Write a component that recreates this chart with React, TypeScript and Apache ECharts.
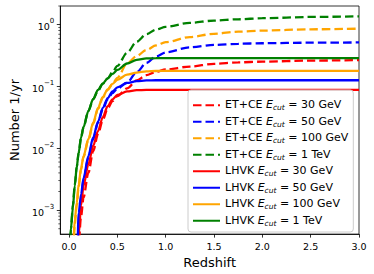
import React, { useEffect, useRef } from "react";
import * as echarts from "echarts";

const Z = [0, 0.02, 0.04, 0.06, 0.08, 0.1, 0.125, 0.15, 0.2, 0.25, 0.3, 0.35, 0.4, 0.45, 0.5, 0.6, 0.7, 0.8, 0.9, 1.0, 1.25, 1.5, 1.75, 2.0, 2.5, 3.0];

const ETCE_30 = [1e-5, 1e-5, 1e-5, 1e-5, 5e-5, 3e-4, 8e-4, 0.0016, 0.004, 0.009, 0.017, 0.029, 0.044, 0.058, 0.07, 0.093, 0.125, 0.152, 0.172, 0.188, 0.21, 0.232, 0.245, 0.252, 0.262, 0.267];
const ETCE_50 = [1e-5, 1e-5, 1e-5, 1e-5, 5e-5, 6e-4, 0.0015, 0.003, 0.007, 0.014, 0.026, 0.043, 0.062, 0.078, 0.092, 0.115, 0.17, 0.24, 0.305, 0.355, 0.43, 0.47, 0.49, 0.5, 0.51, 0.515];
const ETCE_100 = [1e-5, 1e-5, 1.8e-4, 6e-4, 0.0012, 0.0024, 0.0045, 0.0072, 0.0135, 0.025, 0.043, 0.066, 0.088, 0.11, 0.138, 0.235, 0.31, 0.39, 0.46, 0.52, 0.63, 0.71, 0.77, 0.8, 0.84, 0.86];
const ETCE_1TEV = [1e-4, 5e-4, 0.0012, 0.0026, 0.005, 0.0085, 0.015, 0.022, 0.04, 0.062, 0.085, 0.11, 0.135, 0.17, 0.215, 0.35, 0.53, 0.7, 0.83, 0.92, 1.07, 1.16, 1.22, 1.27, 1.33, 1.36];

const LHVK_30 = [1e-5, 1e-5, 1e-5, 1e-5, 1e-4, 4e-4, 0.0012, 0.0025, 0.0055, 0.011, 0.019, 0.032, 0.048, 0.062, 0.073, 0.083, 0.087, 0.088, 0.088, 0.088, 0.088, 0.088, 0.088, 0.088, 0.088, 0.088];
const LHVK_50 = [1e-5, 1e-5, 1e-5, 1e-5, 1e-4, 9e-4, 0.0018, 0.0033, 0.0075, 0.015, 0.027, 0.045, 0.065, 0.083, 0.097, 0.114, 0.122, 0.125, 0.126, 0.126, 0.126, 0.126, 0.126, 0.126, 0.126, 0.126];
const LHVK_100 = [1e-5, 1e-5, 2e-4, 7e-4, 0.0013, 0.0026, 0.0048, 0.0075, 0.014, 0.026, 0.045, 0.068, 0.09, 0.11, 0.128, 0.155, 0.168, 0.175, 0.178, 0.179, 0.179, 0.179, 0.179, 0.179, 0.179, 0.179];
const LHVK_1TEV = [1e-4, 5e-4, 0.0011, 0.0025, 0.005, 0.0085, 0.015, 0.022, 0.04, 0.063, 0.088, 0.112, 0.135, 0.16, 0.185, 0.235, 0.27, 0.284, 0.287, 0.288, 0.288, 0.288, 0.288, 0.288, 0.288, 0.288];

const SERIES_NAMES = [
  "ET+CE E_cut = 30 GeV",
  "ET+CE E_cut = 50 GeV",
  "ET+CE E_cut = 100 GeV",
  "ET+CE E_cut = 1 TeV",
  "LHVK E_cut = 30 GeV",
  "LHVK E_cut = 50 GeV",
  "LHVK E_cut = 100 GeV",
  "LHVK E_cut = 1 TeV",
];
const SERIES_VALUES = [ETCE_30, ETCE_50, ETCE_100, ETCE_1TEV, LHVK_30, LHVK_50, LHVK_100, LHVK_1TEV];
const SERIES_COLORS = ["#ff0000", "#0000ff", "#ffa500", "#008000", "#ff0000", "#0000ff", "#ffa500", "#008000"];
const SERIES_DASHED = [true, true, true, true, false, false, false, false];

const X_TICKS = [0, 0.5, 1.0, 1.5, 2.0, 2.5, 3.0];
const Y_TICKS = [1e-3, 1e-2, 1e-1, 1];
const MINOR_TICKS = [5e-4, 6e-4, 7e-4, 8e-4, 9e-4, 2e-3, 3e-3, 4e-3, 5e-3, 6e-3, 7e-3, 8e-3, 9e-3, 0.02, 0.03, 0.04, 0.05, 0.06, 0.07, 0.08, 0.09, 0.2, 0.3, 0.4, 0.5, 0.6, 0.7, 0.8, 0.9, 2];

const X_MIN = -0.09;
const X_MAX = 3.0;
const Y_MIN = 4.1e-4;
const Y_MAX = 2.0;

const FONT = "DejaVu Sans";

export default function App() {
  const ref = useRef<HTMLDivElement>(null);
  useEffect(() => {
    if (!ref.current) return;
    document.body.style.margin = "0";
    const chart = echarts.init(ref.current, null, { renderer: "svg" });
    const lineSeries = SERIES_NAMES.map((name, k) => ({
      name,
      type: "line",
      data: Z.map((z, i) => [z, SERIES_VALUES[k][i]]),
      symbol: "none",
      showSymbol: false,
      smooth: 0.3,
      smoothMonotone: "x",
      clip: true,
      color: SERIES_COLORS[k],
      lineStyle: {
        color: SERIES_COLORS[k],
        width: 2.3,
        type: SERIES_DASHED[k] ? [8.5, 4] : "solid",
        cap: "butt",
      },
    }));
    const minorSeries = {
      name: "minor",
      type: "scatter",
      data: MINOR_TICKS.map((v) => [X_MIN, v]),
      symbol: "rect",
      symbolSize: [2, 0.8],
      symbolOffset: [-1, 0],
      itemStyle: { color: "#000" },
      clip: false,
      silent: true,
      z: 5,
    };
    const sup = (n: number) => `{b|10}{s|${n < 0 ? "\u2212" + -n : n}}`;
    chart.setOption({
      animation: false,
      textStyle: { fontFamily: FONT },
      grid: { left: 52, right: 15, top: 6, bottom: 39, show: true, borderColor: "#000", borderWidth: 0.8, backgroundColor: "transparent" },
      xAxis: {
        type: "value",
        min: X_MIN,
        max: X_MAX,
        name: "Redshift",
        nameLocation: "middle",
        nameGap: 16,
        nameTextStyle: { fontSize: 13, color: "#000", fontFamily: FONT },
        axisLine: { show: true, onZero: false, lineStyle: { color: "#000", width: 0.8 } },
        axisTick: { show: true, length: 3.5, customValues: X_TICKS, lineStyle: { color: "#000", width: 0.8 } },
        axisLabel: {
          fontSize: 9.5,
          color: "#000",
          margin: 7,
          fontFamily: FONT,
          customValues: X_TICKS,
          hideOverlap: false,
          formatter: (v: number) => v.toFixed(1),
        },
        splitLine: { show: false },
      },
      yAxis: {
        type: "log",
        logBase: 10,
        min: Y_MIN,
        max: Y_MAX,
        name: "Number 1/yr",
        nameLocation: "middle",
        nameGap: 33,
        nameTextStyle: { fontSize: 13, color: "#000", fontFamily: FONT },
        axisLine: { show: true, onZero: false, lineStyle: { color: "#000", width: 0.8 } },
        axisTick: { show: true, length: 3.5, customValues: Y_TICKS, lineStyle: { color: "#000", width: 0.8 } },
        axisLabel: {
          color: "#000",
          margin: 6,
          fontFamily: FONT,
          customValues: Y_TICKS,
          formatter: (v: number) => sup(Math.round(Math.log10(v))),
          rich: {
            b: { fontSize: 9.5, fontFamily: FONT, color: "#000", verticalAlign: "bottom", lineHeight: 14 },
            s: { fontSize: 7, fontFamily: FONT, color: "#000", verticalAlign: "top", lineHeight: 14 },
          },
        },
        splitLine: { show: false },
        minorTick: { show: false },
      },
      legend: {
        data: SERIES_NAMES,
        orient: "vertical",
        left: 188,
        top: 90,
        align: "left",
        itemWidth: 27,
        itemHeight: 10,
        itemGap: 4,
        padding: [9, 5, 5, 4],
        backgroundColor: "rgba(255,255,255,0.8)",
        borderColor: "#cccccc",
        borderWidth: 1,
        borderRadius: 3,
        itemStyle: { color: "transparent", opacity: 0, borderWidth: 0 },
        textStyle: {
          fontSize: 11,
          color: "#000",
          fontFamily: FONT,
          rich: {
            n: { fontSize: 11, fontFamily: FONT, color: "#000", verticalAlign: "top", lineHeight: 12.5 },
            i: { fontSize: 11, fontFamily: FONT, fontStyle: "italic", color: "#000", verticalAlign: "top", lineHeight: 12.5 },
            s: { fontSize: 7.5, fontFamily: FONT, fontStyle: "italic", color: "#000", verticalAlign: "bottom", lineHeight: 12.5 },
          },
        },
        formatter: (name: string) => {
          const [pre, post] = name.split(" E_cut ");
          return `{n|${pre} }{i|E}{s|cut}{n| ${post}}`;
        },
      },
      series: [...lineSeries, minorSeries],
    } as any);
    return () => chart.dispose();
  }, []);
  return <div ref={ref} style={{ width: 374, height: 274, position: "absolute", left: 0, top: 0 }} />;
}
